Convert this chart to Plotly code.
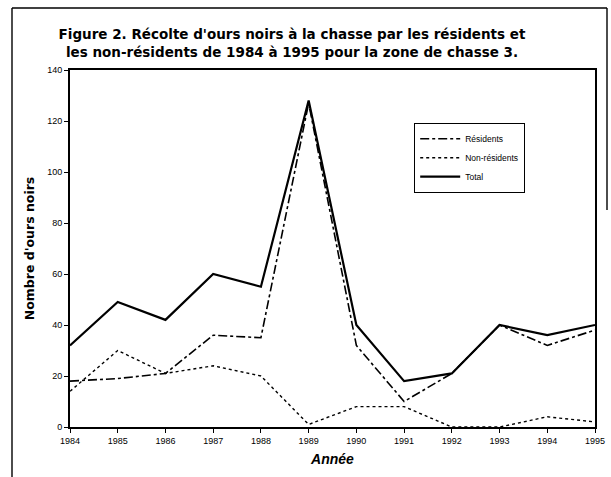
import plotly.graph_objects as go

years = [1984, 1985, 1986, 1987, 1988, 1989, 1990, 1991, 1992, 1993, 1994, 1995]
residents = [18, 19, 21, 36, 35, 127, 32, 10, 21, 40, 32, 38]
non_residents = [14, 30, 21, 24, 20, 1, 8, 8, 0, 0, 4, 2]
total = [32, 49, 42, 60, 55, 128, 40, 18, 21, 40, 36, 40]
y_ticks = [0, 20, 40, 60, 80, 100, 120, 140]

title_text = ("<b>Figure 2. Récolte d'ours noirs à la chasse par les résidents et<br>"
              "les non-résidents de 1984 à 1995 pour la zone de chasse 3.</b>")

fig = go.Figure()
fig.add_trace(go.Scatter(x=years, y=residents, mode="lines", name="Résidents",
                         line=dict(color="black", width=1.6, dash="dashdot")))
fig.add_trace(go.Scatter(x=years, y=non_residents, mode="lines", name="Non-résidents",
                         line=dict(color="black", width=1.4, dash="dot")))
fig.add_trace(go.Scatter(x=years, y=total, mode="lines", name="Total",
                         line=dict(color="black", width=2.2)))

W, H = 611, 477
L, R, T, B = 70, 16, 70, 50
pw, ph = W - L - R, H - T - B

def px(x):
    return (x - L) / pw

def py(y):
    return (H - B - y) / ph

# partial outer frame of the scanned page (top, left, right segment)
frame_segments = [((12, 8), (607, 8)), ((12, 8), (12, 477)), ((607, 8), (607, 210))]
for (xa, ya), (xb, yb) in frame_segments:
    fig.add_shape(type="line", xref="paper", yref="paper",
                  x0=px(xa), y0=py(ya), x1=px(xb), y1=py(yb),
                  line=dict(color="black", width=1.4), layer="above")

fig.update_layout(
    width=W, height=H,
    margin=dict(l=L, r=R, t=T, b=B, autoexpand=False),
    paper_bgcolor="white", plot_bgcolor="white",
    font=dict(family="Liberation Sans, Arial", color="black"),
    title=dict(text=title_text, x=292 / W, xanchor="center", y=1 - 39 / H, yanchor="middle",
               font=dict(size=13.5, family="DejaVu Sans", color="black")),
    showlegend=True,
    legend=dict(x=px(414), y=py(123), xanchor="left", yanchor="top",
                bordercolor="black", borderwidth=1.2, bgcolor="white",
                font=dict(size=8.5), tracegroupgap=2, itemwidth=40),
    xaxis=dict(range=[1984, 1995], tickmode="array", tickvals=years,
               ticktext=[str(y) for y in years], ticks="outside", ticklen=4,
               tickcolor="black", tickfont=dict(size=9),
               showline=True, linecolor="black", linewidth=2, mirror=True,
               showgrid=False, zeroline=False, automargin=False,
               title=dict(text="<b><i>Année</i></b>", font=dict(size=14), standoff=9)),
    yaxis=dict(range=[0, 140], tickmode="array", tickvals=y_ticks,
               ticks="outside", ticklen=4, tickcolor="black", tickfont=dict(size=9),
               showline=True, linecolor="black", linewidth=2, mirror=True,
               showgrid=False, zeroline=False, automargin=False,
               title=dict(text="<b>Nombre d'ours noirs</b>",
                          font=dict(size=12.5, family="DejaVu Sans"), standoff=10)),
)

fig.write_html("out.html", config={"displayModeBar": False},
               post_script="document.body.style.margin='0';")
